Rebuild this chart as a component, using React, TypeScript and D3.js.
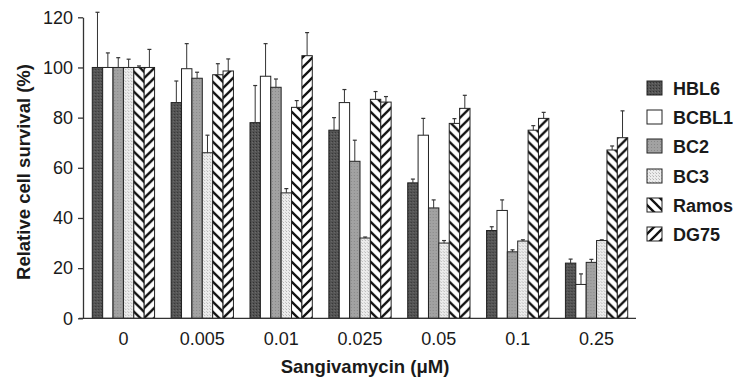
import React, { useEffect, useRef } from "react";
import * as d3 from "d3";

const categories = ["0", "0.005", "0.01", "0.025", "0.05", "0.1", "0.25"];
const seriesNames = ["HBL6", "BCBL1", "BC2", "BC3", "Ramos", "DG75"];
const hbl6 = [100, 86, 78, 75, 54, 35, 22];
const hbl6Err = [22, 8.6, 14.8, 5, 1.5, 1.5, 1.6];
const bcbl1 = [100, 99.5, 96.5, 86, 73, 43, 13.5];
const bcbl1Err = [5.8, 10, 13, 5.2, 6.7, 4.2, 4.2];
const bc2 = [100, 95.7, 92.1, 62.6, 44, 26.5, 22.3];
const bc2Err = [3.9, 2.4, 3.3, 8.4, 3.2, 0.8, 1.2];
const bc3 = [100, 66, 50, 32, 30, 30.8, 31];
const bc3Err = [3.3, 7, 1.7, 0.4, 1, 0.5, 0.3];
const ramos = [100, 97.1, 84.1, 87.3, 77.7, 75, 67.1];
const ramosErr = [0.6, 4.4, 2.7, 3.1, 1.9, 1.8, 1.6];
const dg75 = [100, 98.6, 104.7, 86.2, 83.7, 79.7, 72];
const dg75Err = [7.2, 4.8, 9.2, 2.2, 5.2, 2.4, 10.7];
const yTicks = [0, 20, 40, 60, 80, 100, 120];

const seriesValues = [hbl6, bcbl1, bc2, bc3, ramos, dg75];
const seriesErrors = [hbl6Err, bcbl1Err, bc2Err, bc3Err, ramosErr, dg75Err];
const fills = ["url(#pDark)", "#ffffff", "url(#pMid)", "url(#pLight)", "url(#pBack)", "url(#pFwd)"];

const W = 735;
const H = 379;
const axisX = 83;
const plotRight = 636;
const plotTop = 17.3;
const plotBottom = 318.3;
const FONT = "'Liberation Sans', Arial, Helvetica, sans-serif";

export default function App() {
  const yAxisRef = useRef<SVGGElement>(null);
  const xAxisRef = useRef<SVGGElement>(null);

  const x0 = d3.scaleBand<string>().domain(categories).range([axisX + 1, plotRight]).paddingInner(0.21).paddingOuter(0.105);
  const x1 = d3.scaleBand<string>().domain(seriesNames).range([0, x0.bandwidth()]);
  const y = d3.scaleLinear().domain([0, 120]).range([plotBottom, plotTop]);

  useEffect(() => {
    if (yAxisRef.current) {
      const g = d3.select(yAxisRef.current);
      g.call(d3.axisLeft(y).tickValues(yTicks).tickSize(5).tickPadding(5).tickSizeOuter(0));
      g.select(".domain").attr("stroke", "#333").attr("stroke-width", 1.3);
      g.selectAll(".tick line").attr("stroke", "#333").attr("stroke-width", 1.3);
      g.selectAll(".tick text").attr("font-size", 18).attr("font-family", FONT).attr("fill", "#1a1a1a");
    }
    if (xAxisRef.current) {
      const g = d3.select(xAxisRef.current);
      g.call(d3.axisBottom(x0).tickSize(0).tickPadding(14).tickSizeOuter(0));
      g.select(".domain").attr("stroke", "#333").attr("stroke-width", 1.3).attr("d", `M${axisX - 4},0H${plotRight}`);
      g.selectAll(".tick text").attr("font-size", 18).attr("font-family", FONT).attr("fill", "#1a1a1a");
    }
  }, []);

  const legendY = [88, 117, 146, 176, 205, 234];

  return (
    <svg width={W} height={H} style={{ position: "absolute", left: 0, top: 0, background: "#fff" }}>
      <defs>
        <pattern id="pDark" width="3" height="3" patternUnits="userSpaceOnUse">
          <rect width="3" height="3" fill="#545454" />
          <rect x="0" y="0" width="1" height="1" fill="#333" />
          <rect x="2" y="1" width="1" height="1" fill="#6a6a6a" />
        </pattern>
        <pattern id="pMid" width="3" height="3" patternUnits="userSpaceOnUse">
          <rect width="3" height="3" fill="#a2a2a2" />
          <rect x="1" y="1" width="1" height="1" fill="#888" />
        </pattern>
        <pattern id="pLight" width="3" height="3" patternUnits="userSpaceOnUse">
          <rect width="3" height="3" fill="#ececec" />
          <rect x="0" y="0" width="1" height="1" fill="#b5b5b5" />
          <rect x="2" y="2" width="1" height="1" fill="#c8c8c8" />
        </pattern>
        <pattern id="pBack" width="10" height="10" patternUnits="userSpaceOnUse">
          <rect width="10" height="10" fill="#fff" />
          <path d="M-5,-5 L15,15 M-5,5 L5,15 M5,-5 L15,5" stroke="#111" strokeWidth="2.3" />
        </pattern>
        <pattern id="pFwd" width="10" height="10" patternUnits="userSpaceOnUse">
          <rect width="10" height="10" fill="#fff" />
          <path d="M-5,15 L15,-5 M-5,5 L5,-5 M5,15 L15,5" stroke="#111" strokeWidth="2.3" />
        </pattern>
      </defs>

      {categories.map((c, ci) => (
        <g key={c} transform={`translate(${x0(c)},0)`}>
          {seriesNames.map((s, si) => {
            const v = seriesValues[si][ci];
            const e = seriesErrors[si][ci];
            const bx = x1(s) as number;
            const bw = x1.bandwidth();
            const cx = bx + bw / 2;
            return (
              <g key={s}>
                <rect x={bx} y={y(v)} width={bw} height={plotBottom - y(v)} fill={fills[si]} stroke="#222" strokeWidth={1} />
                <line x1={cx} x2={cx} y1={y(v)} y2={y(v + e)} stroke="#333" strokeWidth={1} />
                <line x1={cx - 2} x2={cx + 2} y1={y(v + e)} y2={y(v + e)} stroke="#333" strokeWidth={1.2} />
              </g>
            );
          })}
        </g>
      ))}

      <g ref={yAxisRef} transform={`translate(${axisX},0)`} />
      <g ref={xAxisRef} transform={`translate(0,${plotBottom})`} />

      <text x={0} y={0} transform={`translate(30,172) rotate(-90)`} textAnchor="middle" fontFamily={FONT} fontWeight="bold" fontSize={18.5} fill="#1a1a1a">
        Relative cell survival (%)
      </text>
      <text x={365} y={373} textAnchor="middle" fontFamily={FONT} fontWeight="bold" fontSize={18.5} fill="#1a1a1a">
        Sangivamycin (μM)
      </text>

      {seriesNames.map((s, si) => (
        <g key={s} transform={`translate(647,${legendY[si]})`}>
          <rect x={0} y={-7} width={15} height={14} fill={fills[si]} stroke="#222" strokeWidth={1} />
          <text x={26} y={6.5} fontFamily={FONT} fontWeight="bold" fontSize={18} fill="#1a1a1a">
            {s}
          </text>
        </g>
      ))}
    </svg>
  );
}
